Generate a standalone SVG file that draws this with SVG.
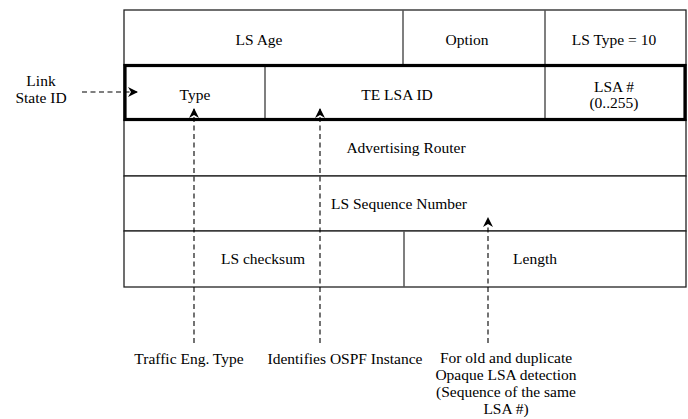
<svg xmlns="http://www.w3.org/2000/svg" width="688" height="419" viewBox="0 0 688 419">
  <style>
    text { font-family: 'Liberation Serif', 'Times New Roman', serif; font-size: 15.5px; fill: #000; text-anchor: middle; }
    .cell { fill: #fff; stroke: #222; stroke-width: 1.3; }
    .div { stroke: #555; stroke-width: 1.5; }
    .thick { fill: none; stroke: #000; stroke-width: 3.2; }
    .dash { fill: none; stroke: #000; stroke-width: 1.1; stroke-dasharray: 5 3.5; }
  </style>
  <defs>
    <marker id="head" viewBox="0 0 10 10" refX="9" refY="5" markerWidth="11" markerHeight="10" markerUnits="userSpaceOnUse" orient="auto">
      <path d="M0,0 L10,5 L0,10 L3,5 z" fill="#000"/>
    </marker>
  </defs>

  <!-- header rows -->
  <g id="row-age">
    <rect class="cell" x="124" y="10" width="562" height="55"/>
    <line class="div" x1="403" y1="10" x2="403" y2="65"/>
    <line class="div" x1="545" y1="10" x2="545" y2="65"/>
    <text x="259" y="45">LS Age</text>
    <text x="467" y="45">Option</text>
    <text x="614" y="45">LS Type = 10</text>
  </g>
  <g id="row-router">
    <rect class="cell" x="124" y="120" width="562" height="56"/>
    <text x="406" y="153">Advertising Router</text>
  </g>
  <g id="row-seq">
    <rect class="cell" x="124" y="176" width="562" height="55"/>
    <text x="399" y="209">LS Sequence Number</text>
  </g>
  <g id="row-checksum">
    <rect class="cell" x="124" y="231" width="562" height="56"/>
    <line class="div" x1="404" y1="231" x2="404" y2="287"/>
    <text x="263" y="264">LS checksum</text>
    <text x="535" y="264">Length</text>
  </g>
  <g id="row-lsid">
    <rect class="cell" x="124" y="65" width="562" height="55" stroke="none"/>
    <line class="div" x1="265" y1="65" x2="265" y2="120"/>
    <line class="div" x1="545" y1="65" x2="545" y2="120"/>
    <rect class="thick" x="125" y="65.5" width="560" height="54"/>
    <text x="195" y="100">Type</text>
    <text x="397" y="100">TE LSA ID</text>
    <text x="614" y="92">LSA #</text>
    <text x="614" y="108">(0..255)</text>
  </g>

  <!-- side and bottom labels -->
  <g id="label-lsid">
    <text x="41" y="86">Link</text>
    <text x="41" y="103">State ID</text>
  </g>
  <g id="label-type">
    <text x="189" y="364">Traffic Eng. Type</text>
  </g>
  <g id="label-instance">
    <text x="345" y="364">Identifies OSPF Instance</text>
  </g>
  <g id="label-seq">
    <text x="506" y="363">For old and duplicate</text>
    <text x="506" y="380">Opaque LSA detection</text>
    <text x="506" y="397">(Sequence of the same</text>
    <text x="506" y="414">LSA #)</text>
  </g>

  <!-- connectors -->
  <g id="connectors">
    <path class="dash" d="M82,92 L137,92" marker-end="url(#head)"/>
    <path class="dash" d="M194,343 L194,109" marker-end="url(#head)"/>
    <path class="dash" d="M320,343 L320,109" marker-end="url(#head)"/>
    <path class="dash" d="M488,343 L488,218" marker-end="url(#head)"/>
  </g>
</svg>
